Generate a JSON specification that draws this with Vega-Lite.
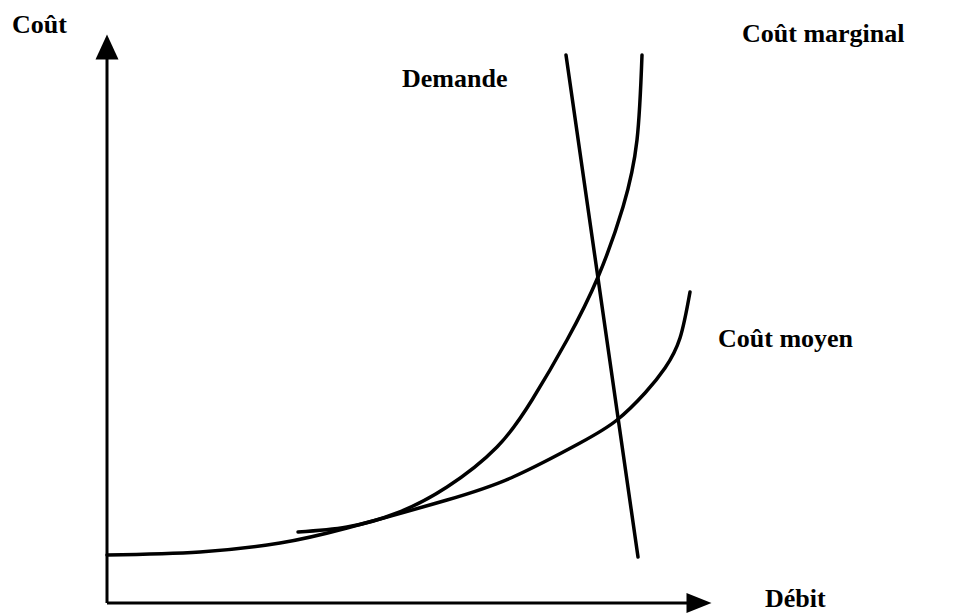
{
  "$schema": "https://vega.github.io/schema/vega-lite/v6.json",
  "width": 973,
  "height": 615,
  "autosize": {"type": "fit", "contains": "padding"},
  "padding": 0,
  "background": "white",
  "config": {"view": {"stroke": null}},
  "datasets": {
    "curves": [
      {"series": "Coût moyen", "i": 0, "x": 0, "y": 48},
      {"series": "Coût moyen", "i": 1, "x": 93, "y": 51},
      {"series": "Coût moyen", "i": 2, "x": 173, "y": 60},
      {"series": "Coût moyen", "i": 3, "x": 240, "y": 75},
      {"series": "Coût moyen", "i": 4, "x": 340, "y": 103},
      {"series": "Coût moyen", "i": 5, "x": 406, "y": 126},
      {"series": "Coût moyen", "i": 6, "x": 473, "y": 160},
      {"series": "Coût moyen", "i": 7, "x": 510, "y": 183},
      {"series": "Coût moyen", "i": 8, "x": 538, "y": 210},
      {"series": "Coût moyen", "i": 9, "x": 558, "y": 235},
      {"series": "Coût moyen", "i": 10, "x": 573, "y": 265},
      {"series": "Coût moyen", "i": 11, "x": 583, "y": 311},
      {"series": "Coût marginal", "i": 0, "x": 191, "y": 71},
      {"series": "Coût marginal", "i": 1, "x": 240, "y": 76},
      {"series": "Coût marginal", "i": 2, "x": 290, "y": 90},
      {"series": "Coût marginal", "i": 3, "x": 340, "y": 116},
      {"series": "Coût marginal", "i": 4, "x": 390, "y": 156},
      {"series": "Coût marginal", "i": 5, "x": 425, "y": 203},
      {"series": "Coût marginal", "i": 6, "x": 460, "y": 263},
      {"series": "Coût marginal", "i": 7, "x": 491, "y": 326},
      {"series": "Coût marginal", "i": 8, "x": 516, "y": 396},
      {"series": "Coût marginal", "i": 9, "x": 530, "y": 463},
      {"series": "Coût marginal", "i": 10, "x": 535, "y": 548},
      {"series": "Demande", "i": 0, "x": 459, "y": 548},
      {"series": "Demande", "i": 1, "x": 531, "y": 46}
    ],
    "axes": [
      {"axis": "Coût", "x": 0, "y": 0, "x2": 0, "y2": 556},
      {"axis": "Débit", "x": 0, "y": 0, "x2": 592, "y2": 0}
    ],
    "labels": [
      {"text": "Coût", "x": -95, "y": 570},
      {"text": "Débit", "x": 658, "y": -4},
      {"text": "Coût marginal", "x": 635, "y": 561},
      {"text": "Demande", "x": 295, "y": 516},
      {"text": "Coût moyen", "x": 611, "y": 256}
    ]
  },
  "layer": [
    {
      "data": {"name": "axes"},
      "mark": {"type": "rule", "strokeWidth": 3, "color": "black"},
      "encoding": {
        "x": {"field": "x", "type": "quantitative", "scale": {"domain": [-107, 866], "nice": false, "zero": false}, "axis": null},
        "y": {"field": "y", "type": "quantitative", "scale": {"domain": [-12, 603], "nice": false, "zero": false}, "axis": null},
        "x2": {"field": "x2"},
        "y2": {"field": "y2"}
      }
    },
    {
      "data": {"name": "axes"},
      "transform": [{"filter": "datum.axis === 'Coût'"}],
      "mark": {"type": "point", "filled": true, "color": "black", "opacity": 1, "size": 625, "shape": "M0,-1L0.92,1L-0.92,1Z"},
      "encoding": {
        "x": {"field": "x2", "type": "quantitative"},
        "y": {"field": "y2", "type": "quantitative"}
      }
    },
    {
      "data": {"name": "axes"},
      "transform": [{"filter": "datum.axis === 'Débit'"}],
      "mark": {"type": "point", "filled": true, "color": "black", "opacity": 1, "size": 625, "shape": "M-1,-0.8L1,0L-1,0.8Z"},
      "encoding": {
        "x": {"field": "x2", "type": "quantitative"},
        "y": {"field": "y2", "type": "quantitative"}
      }
    },
    {
      "data": {"name": "curves"},
      "mark": {"type": "line", "strokeWidth": 3.5, "color": "black", "interpolate": "natural", "strokeCap": "round"},
      "encoding": {
        "x": {"field": "x", "type": "quantitative"},
        "y": {"field": "y", "type": "quantitative"},
        "detail": {"field": "series", "type": "nominal"},
        "order": {"field": "i", "type": "quantitative"}
      }
    },
    {
      "data": {"name": "labels"},
      "mark": {"type": "text", "align": "left", "baseline": "alphabetic", "font": "Liberation Serif", "fontWeight": "bold", "fontSize": 26, "color": "black"},
      "encoding": {
        "x": {"field": "x", "type": "quantitative"},
        "y": {"field": "y", "type": "quantitative"},
        "text": {"field": "text", "type": "nominal"}
      }
    }
  ]
}
